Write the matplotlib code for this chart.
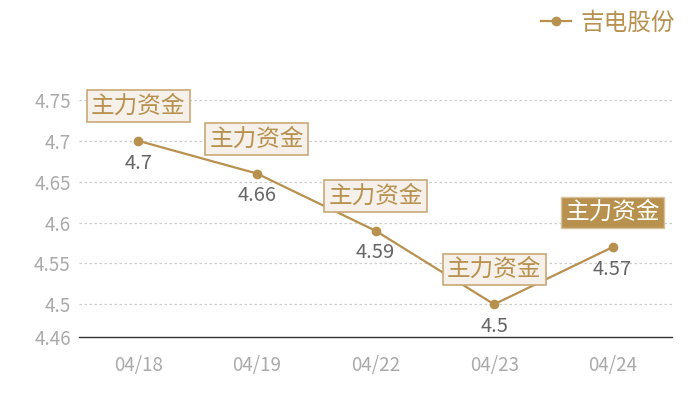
import matplotlib
matplotlib.use("Agg")
import matplotlib.pyplot as plt

plt.rcParams['font.family'] = ['Noto Sans CJK SC', 'DejaVu Sans']

dates = ['04/18', '04/19', '04/22', '04/23', '04/24']
prices = [4.7, 4.66, 4.59, 4.5, 4.57]
price_labels = ['4.7', '4.66', '4.59', '4.5', '4.57']
yticks = [4.46, 4.5, 4.55, 4.6, 4.65, 4.7, 4.75]
ytick_labels = ['4.46', '4.5', '4.55', '4.6', '4.65', '4.7', '4.75']
tag = '主力资金'
highlight = 4  # last tag drawn filled
series_name = '吉电股份'

gold = '#b8914f'
fig = plt.figure(figsize=(7, 4), dpi=100)
ax = fig.add_axes([0.113, 0.1575, 0.847, 0.5925])

x = list(range(len(dates)))
line, = ax.plot(x, prices, color=gold, lw=1.6, marker='o', ms=6, label=series_name, zorder=3)

ax.set_xlim(-0.5, len(dates) - 0.5)
ax.set_ylim(4.46, 4.75)
ax.set_yticks(yticks)
ax.set_yticklabels(ytick_labels)
ax.set_xticks(x)
ax.set_xticklabels(dates)
ax.tick_params(axis='both', length=0, colors='#aaaaaa', labelsize=13.5)
ax.tick_params(axis='x', pad=13)
ax.tick_params(axis='y', pad=6)

for yv in yticks[1:]:
    ax.axhline(yv, color='#cccccc', lw=0.9, ls=(0, (2, 2)), zorder=1)
for s in ['top', 'right', 'left']:
    ax.spines[s].set_visible(False)
ax.spines['bottom'].set_color('#333333')
ax.spines['bottom'].set_linewidth(1)

for i, (xv, yv) in enumerate(zip(x, prices)):
    ax.annotate(price_labels[i], (xv, yv), xytext=(0, -16), textcoords='offset points',
                ha='center', va='center', fontsize=14.5, color='#666666')
    if i == highlight:
        box = dict(boxstyle='square,pad=0.18', fc=gold, ec='#d8c29c', lw=1)
        tc = 'white'
    else:
        box = dict(boxstyle='square,pad=0.18', fc='#f5f0e9', ec='#c9a878', lw=1.2)
        tc = gold
    ax.annotate(tag, (xv, yv), xytext=(0, 25), textcoords='offset points',
                ha='center', va='center', fontsize=17, color=tc, bbox=box,
                annotation_clip=False, zorder=4)

fig.legend(handles=[line], loc='upper right', bbox_to_anchor=(0.995, 1.025), frameon=False,
           fontsize=17, labelcolor=gold, handlelength=1.3, handletextpad=0.4)

fig.savefig('out.png', dpi=100)
